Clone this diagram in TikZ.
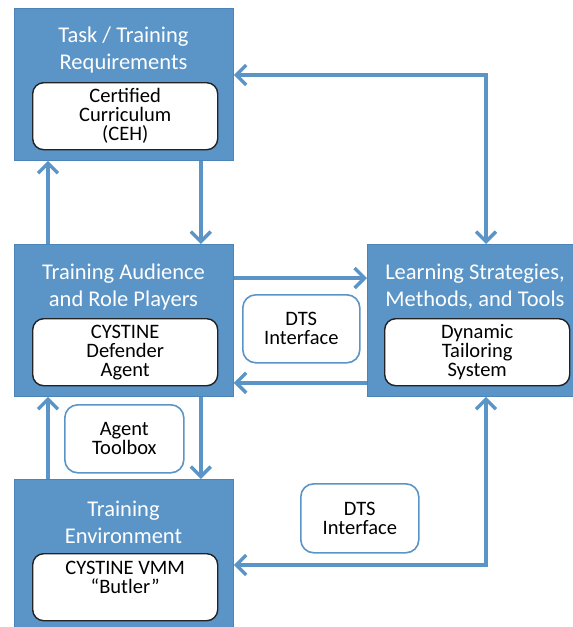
\documentclass[tikz,border=0pt]{standalone}
\usepackage{fontspec}
\setmainfont{Carlito}
\usetikzlibrary{arrows.meta,calc}
\definecolor{boxblue}{HTML}{5B94C6}
\definecolor{boxedge}{HTML}{4D84B8}
\definecolor{inkgray}{HTML}{222222}
\tikzset{
  outerbox/.style={fill=boxblue, draw=boxedge, line width=0.8pt, anchor=north west, inner sep=0pt},
  titletext/.style={text=white, font=\fontsize{22.5}{27}\selectfont, align=center, inner sep=0pt},
  innerbox/.style={fill=white, draw=inkgray, line width=1.4pt, rounded corners=11pt, anchor=north west, inner sep=0pt},
  innertext/.style={text=black, font=\fontsize{20.5}{19}\selectfont, align=center, inner sep=0pt},
  labelbox/.style={fill=white, draw=boxblue, line width=1.6pt, rounded corners=13pt, anchor=north west, inner sep=0pt},
  arr/.style={draw=boxblue, line width=3.4pt, -{Straight Barb[length=10pt,width=20pt]}},
  dblarr/.style={draw=boxblue, line width=3.4pt, {Straight Barb[length=10pt,width=20pt]}-{Straight Barb[length=10pt,width=20pt]}}
}
\begin{document}
\begin{tikzpicture}[x=1pt, y=-1pt]
\useasboundingbox (0,0) rectangle (573,627);
\clip (0,0) rectangle (573,627);

% outer boxes
\node[outerbox, minimum width=219pt, minimum height=152pt] (b1) at (14,8) {};
\node[outerbox, minimum width=219pt, minimum height=152pt] (b2) at (14,244) {};
\node[outerbox, minimum width=208pt, minimum height=152pt] (b3) at (367,244) {};
\node[outerbox, minimum width=219pt, minimum height=170pt] (b4) at (14,479) {};

% titles
\node[titletext] (t1) at (123.5,50) {Task / Training\\Requirements};
\node[titletext] (t2) at (123.5,287) {Training Audience\\and Role Players};
\node[titletext] (t3) at (475,287) {Learning Strategies,\\Methods, and Tools};
\node[titletext] (t4) at (123.5,522) {Training\\Environment};

% inner white boxes
\node[innerbox, minimum width=185pt, minimum height=67pt] (i1) at (32,82) {};
\node[innertext] (it1) at (i1.center) {Certified\\Curriculum\\(CEH)};
\node[innerbox, minimum width=185pt, minimum height=67pt] (i2) at (32,318) {};
\node[innertext] (it2) at (i2.center) {CYSTINE\\Defender\\Agent};
\node[innerbox, minimum width=185pt, minimum height=67pt] (i3) at (384,318) {};
\node[innertext] (it3) at (i3.center) {Dynamic\\Tailoring\\System};
\node[innerbox, minimum width=185pt, minimum height=67pt] (i4) at (32,553) {};
\node[innertext, anchor=north] (it4) at ([yshift=-8pt]i4.north) {CYSTINE VMM\\\textquotedblleft Butler\textquotedblright};

% label boxes
\node[labelbox, minimum width=117pt, minimum height=68pt] (l1) at (242,294) {};
\node[innertext] (lt1) at (l1.center) {DTS\\Interface};
\node[labelbox, minimum width=119pt, minimum height=68pt] (l2) at (64,404) {};
\node[innertext] (lt2) at (l2.center) {Agent\\Toolbox};
\node[labelbox, minimum width=118pt, minimum height=69pt] (l3) at (300,483) {};
\node[innertext] (lt3) at (l3.center) {DTS\\Interface};

% connectors
\draw[arr] ([xshift=34pt]b2.north west) -- ([xshift=34pt]b1.south west);
\draw[arr] ([xshift=-33pt]b1.south east) -- ([xshift=-33pt]b2.north east);
\draw[arr] ([xshift=34pt]b4.north west) -- ([xshift=34pt]b2.south west);
\draw[arr] ([xshift=-33pt]b2.south east) -- ([xshift=-33pt]b4.north east);
\draw[arr] ([yshift=-34pt]b2.north east) -- ([yshift=-34pt]b3.north west);
\draw[arr] ([yshift=14pt]b3.south west) -- ([yshift=14pt]b2.south east);
\draw[dblarr] ([xshift=119pt]b3.north west) |- ([yshift=-67pt]b1.north east);
\draw[dblarr] ([xshift=119pt]b3.south west) |- ([yshift=-86pt]b4.north east);
\end{tikzpicture}
\end{document}
